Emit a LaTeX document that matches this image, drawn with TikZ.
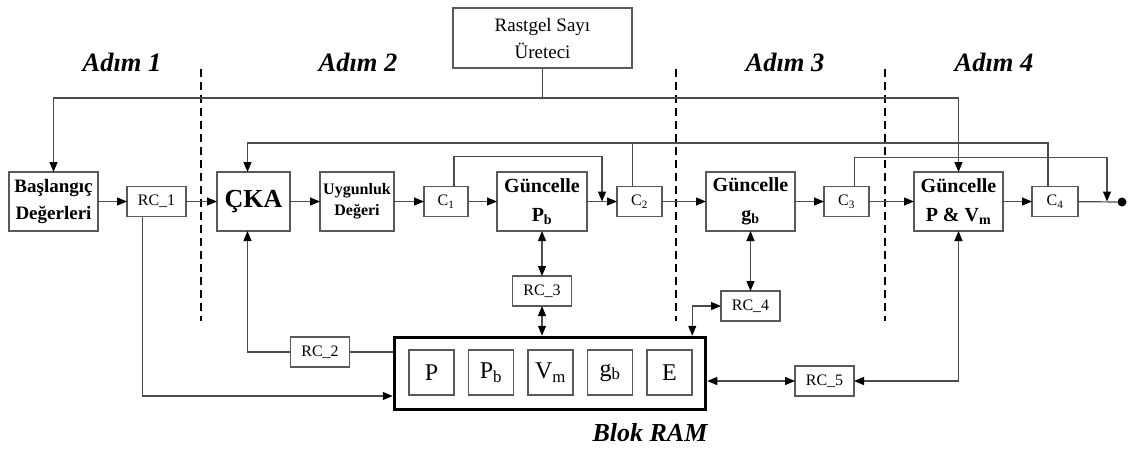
\documentclass[tikz,border=0pt]{standalone}
\usepackage{fontspec}
\setmainfont{Liberation Serif}
\usetikzlibrary{arrows.meta, positioning, calc}

\begin{document}
\begin{tikzpicture}[
    x=1pt, y=-1pt,
    every node/.style={align=center, inner sep=0pt, outer sep=0pt},
    caja/.style={rectangle, draw=black!65, line width=1.2pt, fill=white,
                 minimum width=89pt, minimum height=59pt,
                 font=\fontsize{20}{29}\selectfont\bfseries},
    rc/.style={rectangle, draw=black!65, line width=1.2pt, fill=white,
               minimum width=59pt, minimum height=30pt,
               font=\fontsize{16}{18}\selectfont},
    cc/.style={rc, minimum width=45pt},
    celda/.style={rectangle, draw=black!65, line width=1.2pt,
                  minimum width=45pt, minimum height=45pt,
                  font=\fontsize{24}{26}\selectfont},
    paso/.style={font=\fontsize{26.5}{28}\selectfont\bfseries\itshape},
    linea/.style={line width=1.2pt, draw=black!70},
    flecha/.style={linea, -{Triangle[length=10pt, width=8pt, color=black]}},
    dflecha/.style={linea, {Triangle[length=10pt, width=8pt, color=black]}-{Triangle[length=10pt, width=8pt, color=black]}},
    limite/.style={line width=2.5pt, dash pattern=on 8pt off 5pt}
]
    \useasboundingbox (0,0) rectangle (1131,448);

    % adim etiketleri
    \node[paso] (adim1) at (122,62) {Adım 1};
    \node[paso] (adim2) at (358,62) {Adım 2};
    \node[paso] (adim3) at (785,62) {Adım 3};
    \node[paso] (adim4) at (994,62) {Adım 4};

    \draw[limite] (201,69) -- (201,321);
    \draw[limite] (676,69) -- (676,321);
    \draw[limite] (885,69) -- (885,321);

    % ana hat
    \node[caja, font=\fontsize{19}{27}\selectfont\bfseries] (inicio) at (53.5,201.5) {Başlangıç\\Değerleri};
    \node[rc, right=29pt of inicio] (rc1) {RC\_1};
    \node[caja, minimum width=73pt, font=\fontsize{26}{28}\selectfont\bfseries,
          right=31pt of rc1] (cka) {ÇKA};
    \node[caja, minimum width=74pt, font=\fontsize{16}{21}\selectfont\bfseries,
          right=30pt of cka] (uygun) {Uygunluk\\Değeri};
    \node[cc, minimum width=44pt, right=30pt of uygun] (c1) {C\textsubscript{1}};
    \node[caja, minimum width=90pt, right=29pt of c1] (pb) {Güncelle\\P\textsubscript{b}};
    \node[cc, right=30pt of pb] (c2) {C\textsubscript{2}};
    \node[caja, right=44pt of c2] (gb) {Güncelle\\g\textsubscript{b}};
    \node[cc, right=29pt of gb] (c3) {C\textsubscript{3}};
    \node[caja, right=45pt of c3] (pvm) {Güncelle\\P \& V\textsubscript{m}};
    \node[cc, minimum width=46pt, right=29pt of pvm] (c4) {C\textsubscript{4}};
    \node[circle, fill=black, minimum size=9pt] (fin) at (1122,202) {};

    \node[rc, minimum width=179pt, minimum height=60pt,
          font=\fontsize{19}{27}\selectfont] (rng) at (542.5,38) {Rastgel Sayı\\Üreteci};

    % blok ram
    \node[draw=black, line width=3.5pt, outer sep=1.75pt,
          minimum width=311pt, minimum height=72pt] (ram) at (550,373.5) {};
    \node[celda] (cp) at (431.5,372.5) {P};
    \node[celda, right=14.5pt of cp]  (cpb) {P\textsubscript{b}};
    \node[celda, right=14.5pt of cpb] (cvm) {V\textsubscript{m}};
    \node[celda, right=14.5pt of cvm] (cgb) {g\textsubscript{b}};
    \node[celda, right=14.5pt of cgb] (ce)  {E};
    \node[paso, font=\fontsize{26}{28}\selectfont\bfseries\itshape] (lram) at (650,433) {Blok RAM};

    \node[rc, below=45pt of pb] (rc3) {RC\_3};
    \node[rc, below=60pt of gb] (rc4) {RC\_4};
    \node[rc] (rc2) at (320,352) {RC\_2};
    \node[rc] (rc5) at (824.5,381) {RC\_5};

    \draw[flecha] (inicio) -- (rc1);
    \draw[flecha] (rc1) -- (cka);
    \draw[flecha] (cka) -- (uygun);
    \draw[flecha] (uygun) -- (c1);
    \draw[flecha] (c1) -- (pb);
    \draw[flecha] (pb) -- (c2);
    \draw[flecha] (c2) -- (gb);
    \draw[flecha] (gb) -- (c3);
    \draw[flecha] (c3) -- (pvm);
    \draw[flecha] (pvm) -- (c4);
    \draw[linea] (c4) -- (fin);

    % rastgele sayi dagitimi
    \coordinate (t1) at (542.5,98);
    \draw[linea] (rng) -- (t1);
    \draw[flecha] (t1) -| (inicio);
    \draw[flecha] (t1) -| (pvm);

    % geri besleme
    \coordinate (t2) at (632,143);
    \draw[flecha] ([xshift=-7pt]c4.north) |- (t2) -| ([xshift=-6pt]cka.north);
    \draw[linea] ([xshift=-7pt]c2.north) -- ([xshift=-7pt]c2.north |- t2);

    \coordinate (m1) at ($(pb.east)!0.5!(c2.west)$);
    \draw[flecha] ([xshift=8pt]c1.north) -- ++(0,-30) -| (m1);
    \coordinate (m2) at ([xshift=29pt]c4.east);
    \draw[flecha] ([xshift=8pt]c3.north) -- ++(0,-29) -| (m2);

    % ram baglantilari
    \draw[flecha] ([xshift=-14pt]rc1.south) |- ([yshift=-22.5pt]ram.west);
    \draw[flecha] (rc2.west) -| ([xshift=-6pt]cka.south);
    \draw[linea] (rc2.east) -- (rc2.east -| ram.west);
    \draw[dflecha] (pb) -- (rc3);
    \draw[dflecha] (rc3) -- (rc3.south |- ram.north);
    \draw[dflecha] (gb) -- (rc4);
    \draw[dflecha] (rc4.west) -| ([xshift=-15pt]ram.north east);
    \draw[dflecha] (rc5.west -| ram.east) -- (rc5);
    \draw[dflecha] (pvm.south) |- (rc5.east);
\end{tikzpicture}
\end{document}
